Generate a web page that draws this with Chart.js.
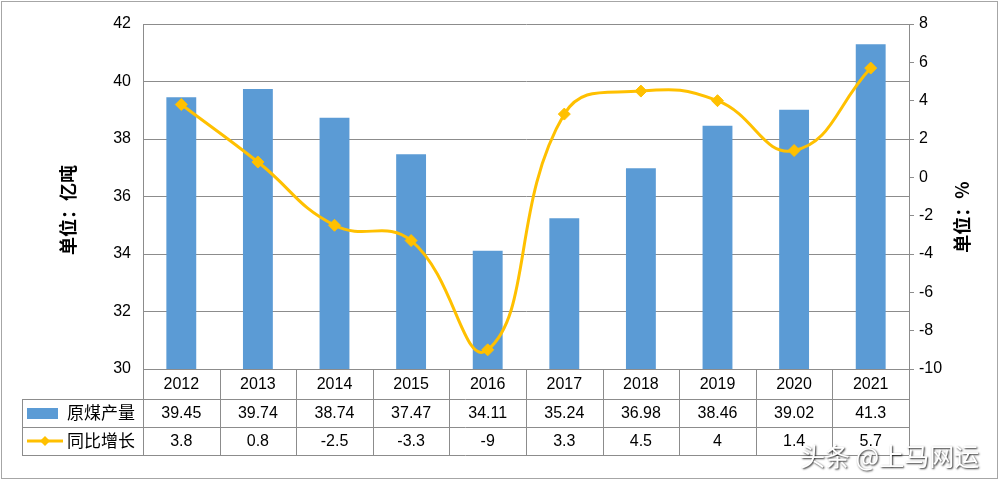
<!DOCTYPE html>
<html>
<head>
<meta charset="utf-8">
<script src="https://cdn.jsdelivr.net/npm/chart.js@4.4.0/dist/chart.umd.min.js"></script>
<style>
    html, body { margin: 0; padding: 0; background: #fff; }
    #wrap { width: 999px; height: 480px; position: relative; }
</style>
</head>
<body>
<div id="wrap"><canvas id="coal-chart"></canvas></div>
<script>
// 原煤产量 & 同比增长 2012-2021

const years = ['2012', '2013', '2014', '2015', '2016', '2017', '2018', '2019', '2020', '2021'];
const output = [39.45, 39.74, 38.74, 37.47, 34.11, 35.24, 36.98, 38.46, 39.02, 41.3];
const growth = [3.8, 0.8, -2.5, -3.3, -9, 3.3, 4.5, 4, 1.4, 5.7];
const outputLabel = '原煤产量';
const growthLabel = '同比增长';
const leftTitle = '单位：亿吨';
const rightTitle = '单位：%';
const watermark = '头条 @上马网运';

const BAR_COLOR = '#5b9bd5';
const LINE_COLOR = '#ffc000';
const GRID_COLOR = '#8c8c8c';
const LATIN = '"Liberation Sans", "Open Sans", sans-serif';
const CJK = '"Noto Sans CJK SC", sans-serif';

// draws the data table under the plot, the axis titles, frame and watermark
const tablePlugin = {
    id: 'dataTable',
    afterDraw(chart) {
        const ctx = chart.ctx;
        const area = chart.chartArea;
        const x = chart.scales.x;
        const half = (x.getPixelForValue(1) - x.getPixelForValue(0)) / 2;
        const rows = [area.bottom, area.bottom + 30, area.bottom + 58, area.bottom + 86];
        const tableLeft = 22;

        ctx.save();
        ctx.strokeStyle = GRID_COLOR;
        ctx.lineWidth = 1;

        // horizontal lines
        ctx.beginPath();
        ctx.moveTo(area.left, rows[0] + 0.5);
        ctx.lineTo(area.right, rows[0] + 0.5);
        for (let i = 1; i < rows.length; i++) {
            ctx.moveTo(tableLeft, rows[i] + 0.5);
            ctx.lineTo(area.right, rows[i] + 0.5);
        }
        // vertical lines
        ctx.moveTo(tableLeft + 0.5, rows[1]);
        ctx.lineTo(tableLeft + 0.5, rows[3]);
        for (let i = 0; i <= years.length; i++) {
            const px = Math.round(x.getPixelForValue(i) - half) + 0.5;
            ctx.moveTo(px, rows[0]);
            ctx.lineTo(px, rows[3]);
        }
        ctx.stroke();

        // cell texts
        ctx.fillStyle = '#000';
        ctx.textAlign = 'center';
        ctx.textBaseline = 'middle';
        ctx.font = '16px ' + LATIN;
        years.forEach((y, i) => {
            const cx = x.getPixelForValue(i);
            ctx.fillText(y, cx, (rows[0] + rows[1]) / 2 + 1);
            ctx.fillText(String(output[i]), cx, (rows[1] + rows[2]) / 2 + 1);
            ctx.fillText(String(growth[i]), cx, (rows[2] + rows[3]) / 2 + 1);
        });

        // legend keys
        const r2 = (rows[1] + rows[2]) / 2;
        const r3 = (rows[2] + rows[3]) / 2;
        ctx.fillStyle = BAR_COLOR;
        ctx.fillRect(27, r2 - 5, 31, 11);
        ctx.strokeStyle = LINE_COLOR;
        ctx.lineWidth = 3;
        ctx.beginPath();
        ctx.moveTo(27, r3);
        ctx.lineTo(63, r3);
        ctx.stroke();
        ctx.fillStyle = LINE_COLOR;
        ctx.beginPath();
        ctx.moveTo(45, r3 - 5);
        ctx.lineTo(50, r3);
        ctx.lineTo(45, r3 + 5);
        ctx.lineTo(40, r3);
        ctx.closePath();
        ctx.fill();

        ctx.fillStyle = '#000';
        ctx.textAlign = 'left';
        ctx.font = '17px ' + CJK;
        ctx.fillText(outputLabel, 67, r2);
        ctx.fillText(growthLabel, 67, r3);

        // axis titles
        ctx.font = 'bold 18px ' + CJK;
        ctx.textAlign = 'center';
        ctx.save();
        ctx.translate(68, 210);
        ctx.rotate(-Math.PI / 2);
        ctx.fillText(leftTitle, 0, 0);
        ctx.restore();
        ctx.save();
        ctx.translate(962, 217);
        ctx.rotate(-Math.PI / 2);
        ctx.fillText(rightTitle, 0, 0);
        ctx.restore();

        // outer frame
        ctx.strokeStyle = '#a6a6a6';
        ctx.lineWidth = 1;
        ctx.strokeRect(1.5, 1.5, chart.width - 3, chart.height - 3);

        // watermark
        ctx.font = '25px ' + CJK;
        ctx.textAlign = 'left';
        ctx.shadowColor = 'rgba(0, 0, 0, 0.85)';
        ctx.shadowBlur = 2;
        ctx.shadowOffsetX = 1;
        ctx.shadowOffsetY = 1;
        ctx.fillStyle = '#fff';
        ctx.fillText(watermark, 800, 456);
        ctx.restore();
    }
};

const chartConfig = {
    data: {
        labels: years,
        datasets: [{
            type: 'line',
            label: growthLabel,
            data: growth,
            yAxisID: 'y1',
            borderColor: LINE_COLOR,
            backgroundColor: LINE_COLOR,
            borderWidth: 3,
            tension: 0.45,
            pointStyle: 'rectRot',
            pointRadius: 6,
            pointBorderWidth: 1,
            order: 1
        }, {
            type: 'bar',
            label: outputLabel,
            data: output,
            yAxisID: 'y',
            backgroundColor: BAR_COLOR,
            barPercentage: 0.39,
            categoryPercentage: 1,
            order: 2
        }]
    },
    options: {
        responsive: true,
        maintainAspectRatio: false,
        animation: false,
        layout: {
            padding: { top: 24, bottom: 111, left: 0, right: 0 }
        },
        plugins: {
            legend: { display: false },
            tooltip: { enabled: false }
        },
        scales: {
            x: {
                display: false
            },
            y: {
                position: 'left',
                min: 30,
                max: 42,
                ticks: {
                    stepSize: 2,
                    color: '#000',
                    padding: 12,
                    font: { family: LATIN, size: 16 }
                },
                grid: {
                    color: GRID_COLOR,
                    drawTicks: false
                },
                border: { color: GRID_COLOR },
                afterFit(scale) { scale.width = 143; }
            },
            y1: {
                position: 'right',
                min: -10,
                max: 8,
                ticks: {
                    stepSize: 2,
                    color: '#000',
                    padding: 5,
                    font: { family: LATIN, size: 16 }
                },
                grid: {
                    drawOnChartArea: false,
                    color: GRID_COLOR,
                    tickLength: 5
                },
                border: { color: GRID_COLOR },
                afterFit(scale) { scale.width = 90; }
            }
        }
    },
    plugins: [tablePlugin]
};

new Chart(document.getElementById('coal-chart'), chartConfig);
</script>
</body>
</html>
